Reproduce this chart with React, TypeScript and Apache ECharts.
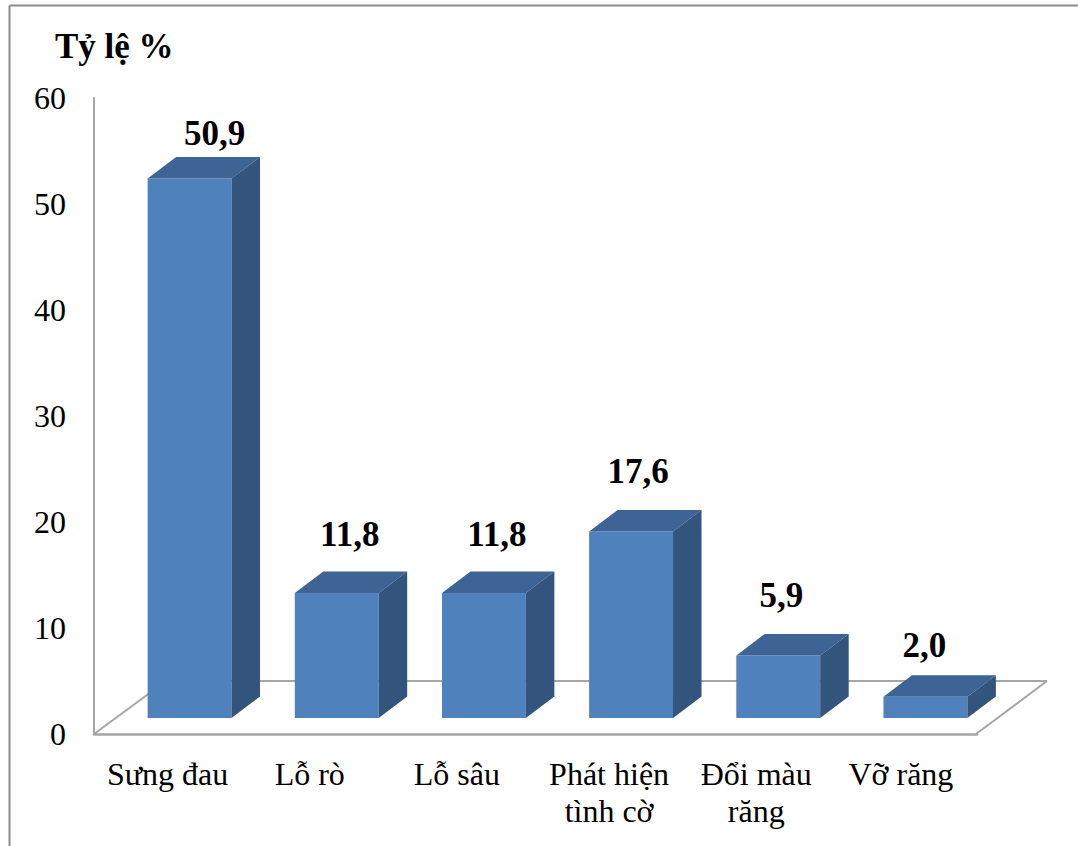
import React, { useEffect, useRef } from "react";
import * as echarts from "echarts";

const categories = ["Sưng đau", "Lỗ rò", "Lỗ sâu", "Phát hiện\ntình cờ", "Đổi màu\nrăng", "Vỡ răng"];
const values = [50.9, 11.8, 11.8, 17.6, 5.9, 2.0];
const valueLabels = ["50,9", "11,8", "11,8", "17,6", "5,9", "2,0"];
const labelShiftX = [25, 13, 13, 7, 3, -1];
const labelLift = [23, 37, 37, 38, 38, 30];
const shiftedCategories = ["Lỗ rò", "Lỗ sâu"];
const slightlyShiftedCategories = ["Vỡ răng"];
const yTicks = { min: 0, max: 60, interval: 10 };

const FONT = '"Liberation Serif", "Times New Roman", serif';
const FRONT = "#4F81BD";
const TOP = "#3D6494";
const SIDE = "#32547D";
const GRID_LINE = "#A6A6A6";
const DEPTH_X = 28.5;
const DEPTH_Y = 21.5;
const SHIFT_X = 22;
const SHIFT_Y = 16;

export default function App() {
  const ref = useRef<HTMLDivElement>(null);
  useEffect(() => {
    const chart = echarts.init(ref.current!, null, { renderer: "svg" });
    const renderItem = (params: any, api: any) => {
      const i = api.value(0);
      const base = api.coord([i, 0]);
      const top = api.coord([i, api.value(1)]);
      const w = api.size([1, 0])[0] * 0.57;
      const l = base[0] + SHIFT_X - w / 2;
      const r = l + w;
      const b = base[1] - SHIFT_Y;
      const t = top[1] - SHIFT_Y;
      return {
        type: "group",
        children: [
          { type: "polygon", shape: { points: [[l, b], [r, b], [r, t], [l, t]] }, style: { fill: FRONT } },
          { type: "polygon", shape: { points: [[l, t], [r, t], [r + DEPTH_X, t - DEPTH_Y], [l + DEPTH_X, t - DEPTH_Y]] }, style: { fill: TOP } },
          { type: "polygon", shape: { points: [[r, b], [r + DEPTH_X, b - DEPTH_Y], [r + DEPTH_X, t - DEPTH_Y], [r, t]] }, style: { fill: SIDE } },
          {
            type: "text",
            x: base[0] + SHIFT_X + labelShiftX[i],
            y: t - DEPTH_Y - labelLift[i],
            style: {
              text: valueLabels[i],
              font: `bold 35px ${FONT}`,
              fill: "#000",
              align: "center",
              verticalAlign: "middle",
            },
          },
        ],
      };
    };
    const line = (x1: number, y1: number, x2: number, y2: number, color = GRID_LINE, width = 2) => ({
      type: "line",
      z: 0,
      shape: { x1, y1, x2, y2 },
      style: { stroke: color, lineWidth: width },
    });
    const richBase = { fontFamily: FONT, fontSize: 32, lineHeight: 37, color: "#000" };
    chart.setOption({
      animation: false,
      backgroundColor: "#fff",
      title: {
        text: "Tỷ lệ %",
        left: 50,
        top: 24,
        textStyle: { fontFamily: FONT, fontSize: 35, fontWeight: "bold", color: "#000" },
      },
      grid: { left: 94, top: 98, width: 883, height: 636 },
      xAxis: {
        type: "category",
        data: categories,
        axisLine: { lineStyle: { color: GRID_LINE, width: 2.5 } },
        axisTick: { show: false },
        axisLabel: {
          interval: 0,
          margin: 21,
          fontFamily: FONT,
          fontSize: 32,
          lineHeight: 37,
          color: "#000",
          formatter: (v: string) =>
            shiftedCategories.includes(v) ? `{s|${v}}` : slightlyShiftedCategories.includes(v) ? `{v|${v}}` : v,
          rich: {
            s: { ...richBase, padding: [0, 10, 0, 0] },
            v: { ...richBase, padding: [0, 5, 0, 0] },
          },
        },
      },
      yAxis: {
        type: "value",
        ...yTicks,
        axisLine: { show: true, lineStyle: { color: GRID_LINE, width: 2 } },
        axisTick: { show: false },
        splitLine: { show: false },
        axisLabel: { margin: 28, fontFamily: FONT, fontSize: 32, color: "#000" },
      },
      graphic: [
        line(9.5, 5.5, 1078, 5.5, "#8C8C8C", 2),
        line(9.5, 5.5, 9.5, 846, "#8C8C8C", 2),
        line(94, 734, 166, 681),
        line(166, 681, 1047, 681),
        line(1047, 681, 976, 734),
      ],
      series: [
        {
          type: "custom",
          z: 5,
          clip: false,
          renderItem,
          data: values,
          encode: { x: 0, y: 1 },
        },
      ],
    });
    return () => chart.dispose();
  }, []);
  return <div ref={ref} style={{ position: "absolute", left: 0, top: 0, width: 1078, height: 846 }} />;
}
